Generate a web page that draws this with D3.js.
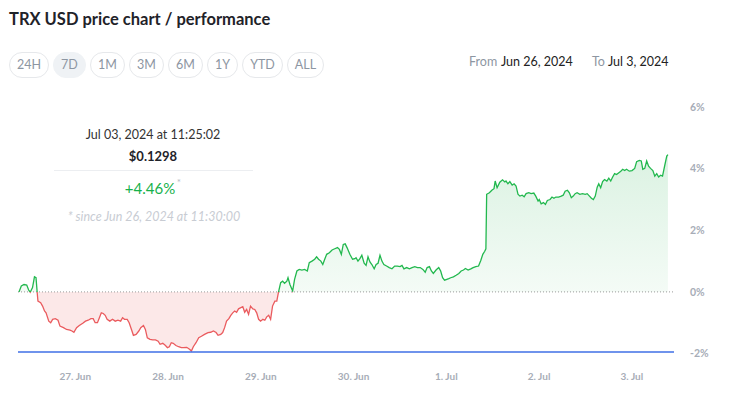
<!DOCTYPE html>
<html>
<head>
<meta charset="utf-8">
<script src="https://cdn.jsdelivr.net/npm/d3@7"></script>
<style>
  body { margin: 0; background: #fff; }
  svg { font-family: Lato, "Noto Sans", sans-serif; display: block; }
</style>
</head>
<body>
<script>
// hours since the start (Jun 26, 2024 11:30) and % change against the start price
const hours = [0,0.6,1.3,2.0,2.5,2.9,3.5,4.0,4.4,4.7,4.9,5.6,6.1,6.6,7.0,7.7,8.2,8.7,9.4,10.1,10.6,11.5,12.3,13.2,13.7,14.2,14.9,15.6,16.5,17.2,17.9,18.6,19.2,19.7,20.3,20.8,21.3,21.8,22.3,22.8,23.5,24.2,24.9,25.6,26.3,26.8,27.3,28.0,28.5,29.1,29.6,30.3,31.0,31.5,32.2,32.7,33.2,33.9,34.6,35.3,36.0,36.5,37.2,37.9,38.4,38.9,39.4,39.9,40.6,41.3,42.0,42.5,43.4,44.2,44.6,45.1,45.8,46.5,47.2,48.0,48.9,49.6,50.3,51.0,51.5,52.2,52.7,53.2,53.7,54.3,54.8,55.3,55.8,56.3,56.8,57.4,57.9,58.4,58.9,59.4,59.9,60.5,61.0,61.5,62.0,62.5,63.1,63.6,64.1,64.6,65.1,65.6,66.2,66.7,67.1,67.7,68.2,68.7,69.3,69.6,70.1,70.8,71.3,71.9,72.5,73.2,73.9,74.6,75.1,75.8,76.5,77.0,77.5,78.1,78.6,79.1,79.6,80.3,81.0,81.7,82.4,82.9,83.4,83.9,84.4,84.9,85.6,86.3,86.9,87.2,87.7,88.2,88.7,89.3,89.8,90.3,90.8,91.3,91.9,92.4,92.9,93.4,93.9,94.4,95.1,95.8,96.5,97.2,97.9,98.6,99.1,99.6,100.3,101.0,101.7,102.4,103.1,103.8,104.5,105.1,105.6,106.2,106.7,107.2,107.9,108.6,109.1,109.6,110.1,110.7,111.2,111.7,112.4,113.1,113.8,114.4,115.0,115.5,116.2,116.9,117.5,118.2,118.9,119.5,120.0,120.5,120.8,121.0,121.7,122.4,122.9,123.2,123.7,124.4,125.1,125.7,126.0,126.5,127.0,127.6,128.1,128.6,129.1,129.6,130.2,130.7,131.2,131.9,132.5,133.2,133.7,134.3,134.6,135.1,135.7,136.2,136.7,137.4,137.9,138.4,138.9,139.6,140.3,140.8,141.3,141.9,142.4,142.9,143.4,143.9,144.4,145.1,145.8,146.5,147.0,147.6,148.1,148.6,149.1,149.6,150.0,150.5,151.0,151.5,152.1,152.6,153.1,153.6,154.1,154.6,155.2,155.7,156.2,156.7,157.2,157.9,158.6,159.3,159.8,160.5,161.0,161.4,161.9,162.4,162.9,163.4,164.0,164.5,165.0,165.5,166.0,166.5,167.1,167.6,167.9];
const change = [0,0.19,0.24,0.22,0.06,-0.01,0.14,0.49,0.46,-0.01,-0.30,-0.35,-0.46,-0.62,-0.68,-0.95,-1.00,-0.89,-0.87,-0.92,-1.11,-1.16,-1.22,-1.24,-1.27,-1.31,-1.16,-1.09,-1.02,-0.95,-0.92,-0.87,-0.87,-1.00,-1.00,-0.84,-0.68,-0.70,-0.76,-0.89,-0.95,-0.89,-0.95,-0.92,-0.95,-0.84,-0.89,-0.89,-1.00,-1.22,-1.41,-1.38,-1.27,-1.16,-1.09,-1.22,-1.49,-1.54,-1.56,-1.56,-1.60,-1.70,-1.67,-1.74,-1.81,-1.78,-1.65,-1.67,-1.74,-1.78,-1.81,-1.81,-1.80,-1.87,-1.92,-1.78,-1.65,-1.49,-1.44,-1.38,-1.32,-1.31,-1.27,-1.32,-1.41,-1.38,-1.32,-1.16,-0.95,-0.87,-0.76,-0.68,-0.62,-0.66,-0.55,-0.51,-0.48,-0.66,-0.57,-0.73,-0.46,-0.55,-0.57,-0.68,-0.89,-0.95,-0.89,-0.92,-0.81,-0.76,-0.89,-0.46,-0.30,-0.30,-0.03,0.30,0.35,0.28,0.35,0.46,0.24,0.03,0.41,0.68,0.73,0.71,0.73,0.68,0.95,1.00,1.06,1.14,1.06,1.00,0.89,1.06,1.22,1.27,1.36,1.40,1.44,1.38,1.22,1.54,1.56,1.43,1.22,1.06,1.08,1.11,1.00,1.08,1.19,0.93,0.86,1.14,0.97,0.89,0.75,0.89,0.93,1.19,1.00,0.89,0.84,0.79,0.75,0.84,0.84,0.82,0.86,0.75,0.79,0.75,0.79,0.82,0.79,0.79,0.73,0.64,0.79,0.82,0.68,0.60,0.71,0.79,0.68,0.46,0.38,0.41,0.43,0.46,0.49,0.54,0.60,0.68,0.71,0.76,0.71,0.75,0.79,0.82,0.84,1.03,1.22,1.32,1.40,3.17,3.22,3.31,3.35,3.60,3.38,3.56,3.64,3.57,3.60,3.51,3.58,3.47,3.51,3.44,3.17,3.11,3.14,3.09,3.19,3.22,3.19,3.21,3.11,2.95,3.00,2.86,2.90,2.84,2.97,3.00,3.08,3.04,3.08,3.08,3.11,3.14,3.27,3.30,3.22,3.06,3.11,3.19,3.22,3.17,3.19,3.17,3.19,3.11,3.04,3.00,3.11,3.40,3.51,3.38,3.58,3.65,3.60,3.69,3.60,3.73,3.84,3.81,3.87,3.92,3.98,3.94,3.98,3.92,3.94,4.01,4.23,4.27,4.25,3.98,4.01,4.25,4.08,4.01,3.94,3.76,3.84,3.73,3.79,3.76,4.12,4.41,4.46];

const yTicks = [-2, 0, 2, 4, 6];
const ranges = ["24H", "7D", "1M", "3M", "6M", "1Y", "YTD", "ALL"];
const activeRange = "7D";

const startTime = new Date(2024, 5, 26, 11, 30);
const endTime = new Date(2024, 6, 3, 11, 25, 2);

const width = 729, height = 398;
const svg = d3.select("body").append("svg")
    .attr("width", width)
    .attr("height", height);

const data = hours.map(function(h, i) {
    return { date: new Date(startTime.getTime() + h * 3600 * 1000), value: change[i] };
});

const x = d3.scaleTime().domain([startTime, endTime]).range([19, 668]);
const y = d3.scaleLinear().domain([-2, 6]).range([353.5, 107.1]);

// title
svg.append("text")
    .attr("x", 9).attr("y", 25)
    .attr("font-size", 16.5).attr("font-weight", 700)
    .attr("fill", "#1f2329")
    .text("TRX USD price chart / performance");

// range buttons (pill width = text + padding)
let bx = 9;
ranges.forEach(function(r) {
    const g = svg.append("g");
    const t = g.append("text")
        .attr("y", 69).attr("font-size", 12.5)
        .attr("fill", "#8d96a2")
        .attr("text-anchor", "middle")
        .text(r);
    const w = Math.round(t.node().getComputedTextLength()) + 15;
    g.insert("rect", "text")
        .attr("x", bx + 0.5).attr("y", 52.5)
        .attr("width", w).attr("height", 25)
        .attr("rx", 12.5)
        .attr("fill", r === activeRange ? "#eff2f5" : "#fff")
        .attr("stroke", r === activeRange ? "#eff2f5" : "#e6e8eb");
    t.attr("x", bx + 0.5 + w / 2);
    bx += w + 5;
});

// from / to
const fromTo = svg.append("g").attr("font-size", 12.5);
fromTo.append("text").attr("x", 469).attr("y", 66).attr("fill", "#8d96a2").text("From");
fromTo.append("text").attr("x", 501).attr("y", 66).attr("fill", "#222").text("Jun 26, 2024");
fromTo.append("text").attr("x", 592).attr("y", 66).attr("fill", "#8d96a2").text("To");
fromTo.append("text").attr("x", 608).attr("y", 66).attr("fill", "#222").text("Jul 3, 2024");

// gradients + clips
const defs = svg.append("defs");
const grad = defs.append("linearGradient")
    .attr("id", "greenFill")
    .attr("gradientUnits", "userSpaceOnUse")
    .attr("x1", 0).attr("x2", 0)
    .attr("y1", y(4.5)).attr("y2", y(0));
grad.append("stop").attr("offset", 0).attr("stop-color", "#dbf2e2");
grad.append("stop").attr("offset", 1).attr("stop-color", "#f4fbf6");

defs.append("clipPath").attr("id", "above")
    .append("rect").attr("x", 0).attr("y", 0).attr("width", width).attr("height", y(0));
defs.append("clipPath").attr("id", "below")
    .append("rect").attr("x", 0).attr("y", y(0)).attr("width", width).attr("height", height - y(0));

const area = d3.area()
    .x(function(d) { return x(d.date); })
    .y0(y(0))
    .y1(function(d) { return y(d.value); });
const line = d3.line()
    .x(function(d) { return x(d.date); })
    .y(function(d) { return y(d.value); });

svg.append("path").datum(data)
    .attr("clip-path", "url(#above)")
    .attr("fill", "url(#greenFill)")
    .attr("d", area);
svg.append("path").datum(data)
    .attr("clip-path", "url(#below)")
    .attr("fill", "#fce8e8")
    .attr("d", area);

// zero line (dotted)
svg.append("line")
    .attr("x1", 18).attr("x2", 674)
    .attr("y1", y(0)).attr("y2", y(0))
    .attr("stroke", "#9a9a9a")
    .attr("stroke-width", 1)
    .attr("stroke-dasharray", "1,2");

svg.append("path").datum(data)
    .attr("clip-path", "url(#above)")
    .attr("fill", "none")
    .attr("stroke", "#22b84e")
    .attr("stroke-width", 1.3)
    .attr("d", line);
svg.append("path").datum(data)
    .attr("clip-path", "url(#below)")
    .attr("fill", "none")
    .attr("stroke", "#ea5b5e")
    .attr("stroke-width", 1.3)
    .attr("d", line);

// bottom axis line
svg.append("line")
    .attr("x1", 18).attr("x2", 674)
    .attr("y1", 352).attr("y2", 352)
    .attr("stroke", "#3f6fe6")
    .attr("stroke-width", 1.3);

// y labels
svg.append("g")
    .selectAll("text")
    .data(yTicks)
    .enter().append("text")
    .attr("x", 690)
    .attr("y", function(d) { return y(d); })
    .attr("dy", "0.35em")
    .attr("font-size", 10.5)
    .attr("font-weight", 700)
    .attr("fill", "#a7adb7")
    .text(function(d) { return d + "%"; });

// x labels
const dayFmt = d3.timeFormat("%-d. %b");
svg.append("g")
    .selectAll("text")
    .data(x.ticks(d3.timeDay.every(1)))
    .enter().append("text")
    .attr("x", function(d) { return x(d) + 8; })
    .attr("y", 380)
    .attr("text-anchor", "middle")
    .attr("font-size", 10)
    .attr("font-weight", 700)
    .attr("fill", "#a7adb7")
    .text(function(d) { return dayFmt(d); });

// tooltip
const tip = svg.append("g").attr("text-anchor", "middle");
tip.append("text").attr("x", 153).attr("y", 139).attr("font-size", 12.5).attr("fill", "#333")
    .text("Jul 03, 2024 at 11:25:02");
tip.append("text").attr("x", 153).attr("y", 161).attr("font-size", 13).attr("font-weight", 700).attr("fill", "#1f2329")
    .text("$0.1298");
tip.append("line").attr("x1", 54).attr("x2", 253).attr("y1", 170.5).attr("y2", 170.5)
    .attr("stroke", "#eceef1");
tip.append("text").attr("x", 150).attr("y", 194).attr("font-size", 15).attr("fill", "#16b14b")
    .text("+4.46%");
tip.append("text").attr("x", 179).attr("y", 186).attr("font-size", 10).attr("fill", "#b5bbc4")
    .text("*");
tip.append("text").attr("x", 154).attr("y", 221).attr("font-size", 12.5).attr("font-style", "italic").attr("fill", "#c8ccd3")
    .text("* since Jun 26, 2024 at 11:30:00");
</script>
</body>
</html>
